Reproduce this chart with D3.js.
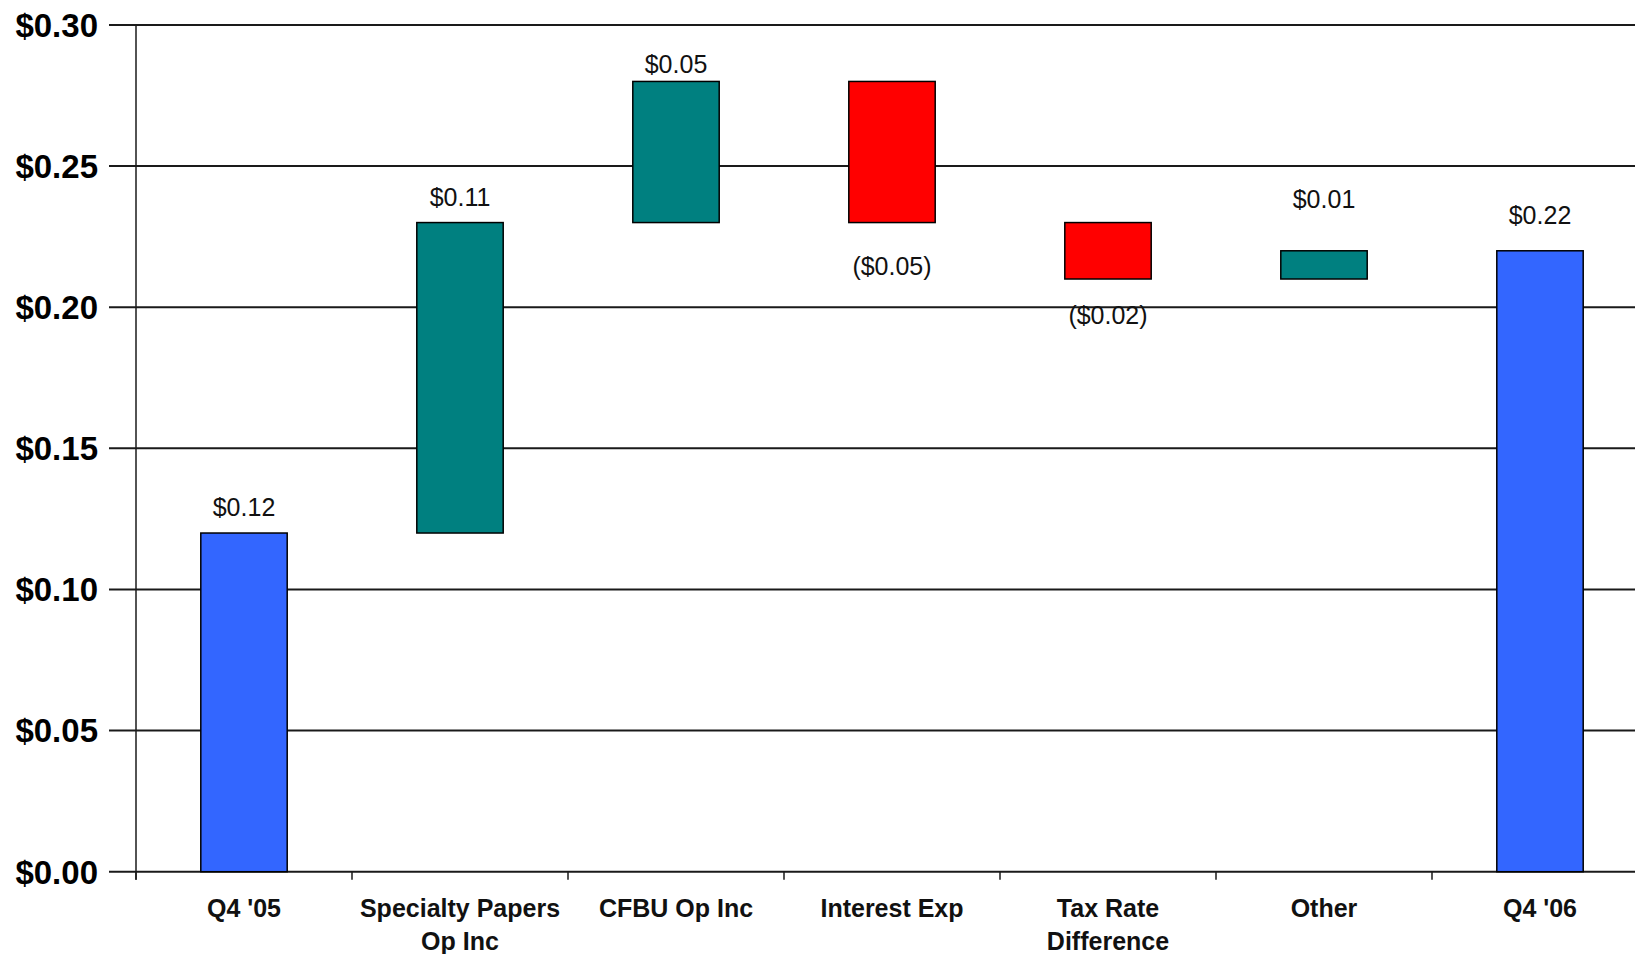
<!DOCTYPE html>
<html>
<head>
<meta charset="utf-8">
<script src="https://cdn.jsdelivr.net/npm/d3@7"></script>
<style>
  html, body { margin: 0; padding: 0; background: #fff; }
  svg { display: block; }
</style>
</head>
<body>
<svg id="chart" width="1635" height="954"></svg>
<script>
// EPS bridge, Q4 '05 to Q4 '06
const categories = [["Q4 '05"], ["Specialty Papers", "Op Inc"], ["CFBU Op Inc"], ["Interest Exp"], ["Tax Rate", "Difference"], ["Other"], ["Q4 '06"]];
const deltas = [0.12, 0.11, 0.05, -0.05, -0.02, 0.01, 0.22];
const kinds = ["total", "step", "step", "step", "step", "step", "total"];
const yTicks = [0, 0.05, 0.10, 0.15, 0.20, 0.25, 0.30];

// Build floating segments from the running total
let running = 0;
const bars = deltas.map((d, i) => {
  let lo, hi;
  if (kinds[i] === "total") { lo = 0; hi = d; running = d; }
  else { const start = running; running += d; lo = Math.min(start, running); hi = Math.max(start, running); }
  return { i, d, lo, hi, kind: kinds[i] };
});

const colors = { total: "#3366FF", up: "#008080", down: "#FF0000" };
// label distance from the bar edge (px), per bar
const labelGap = [26, 26, 17, 43, 36, 52, 36];

const svg = d3.select("#chart");
const x0 = 136, step = 216;
const x = d3.scaleBand().domain(d3.range(categories.length)).range([x0, x0 + step * categories.length]).padding(0);
const y = d3.scaleLinear().domain([0, 0.30]).range([871.7, 25]);

// horizontal gridlines (with outside tick stubs)
svg.append("g").selectAll("line").data(yTicks).join("line")
  .attr("x1", 109).attr("x2", 1635)
  .attr("y1", d => y(d)).attr("y2", d => y(d))
  .attr("stroke", "#1a1a1a").attr("stroke-width", 2);

// y axis line
svg.append("line").attr("x1", x0).attr("x2", x0).attr("y1", y(0.30)).attr("y2", y(0) + 8)
  .attr("stroke", "#1a1a1a").attr("stroke-width", 1.5);

// y labels
svg.append("g").selectAll("text").data(yTicks).join("text")
  .attr("x", 98).attr("y", d => y(d)).attr("dy", "0.36em")
  .attr("text-anchor", "end")
  .attr("font-family", "Liberation Sans, Arial, sans-serif")
  .attr("font-weight", "bold").attr("font-size", 33)
  .text(d => "$" + d.toFixed(2));

// x category boundary ticks
svg.append("g").selectAll("line").data(d3.range(categories.length)).join("line")
  .attr("x1", i => x(i)).attr("x2", i => x(i))
  .attr("y1", y(0)).attr("y2", y(0) + 8)
  .attr("stroke", "#1a1a1a").attr("stroke-width", 1.5);

// bars
const bw = x.bandwidth() * 0.4;
svg.append("g").selectAll("rect").data(bars).join("rect")
  .attr("x", b => x(b.i) + (x.bandwidth() - bw) / 2)
  .attr("width", bw)
  .attr("y", b => y(b.hi))
  .attr("height", b => y(b.lo) - y(b.hi))
  .attr("fill", b => b.kind === "total" ? colors.total : (b.d >= 0 ? colors.up : colors.down))
  .attr("stroke", "#000").attr("stroke-width", 1.5);

// value labels
const fmt = v => (v < 0 ? "($" + Math.abs(v).toFixed(2) + ")" : "$" + v.toFixed(2));
svg.append("g").selectAll("text").data(bars).join("text")
  .attr("x", b => x(b.i) + x.bandwidth() / 2)
  .attr("y", b => b.d < 0 ? y(b.lo) + labelGap[b.i] : y(b.hi) - labelGap[b.i])
  .attr("dy", "0.36em")
  .attr("text-anchor", "middle")
  .attr("font-family", "Liberation Sans, Arial, sans-serif")
  .attr("font-size", 25)
  .attr("fill", "#111")
  .text(b => fmt(b.d));

// category labels
const cat = svg.append("g").selectAll("text").data(categories).join("text")
  .attr("x", (c, i) => x(i) + x.bandwidth() / 2)
  .attr("y", 917)
  .attr("text-anchor", "middle")
  .attr("font-family", "Liberation Sans, Arial, sans-serif")
  .attr("font-weight", "bold").attr("font-size", 25)
  .attr("fill", "#111");
cat.selectAll("tspan").data(c => c).join("tspan")
  .attr("x", function () { return d3.select(this.parentNode).attr("x"); })
  .attr("dy", (t, j) => j === 0 ? 0 : 32.5)
  .text(t => t);
</script>
</body>
</html>
